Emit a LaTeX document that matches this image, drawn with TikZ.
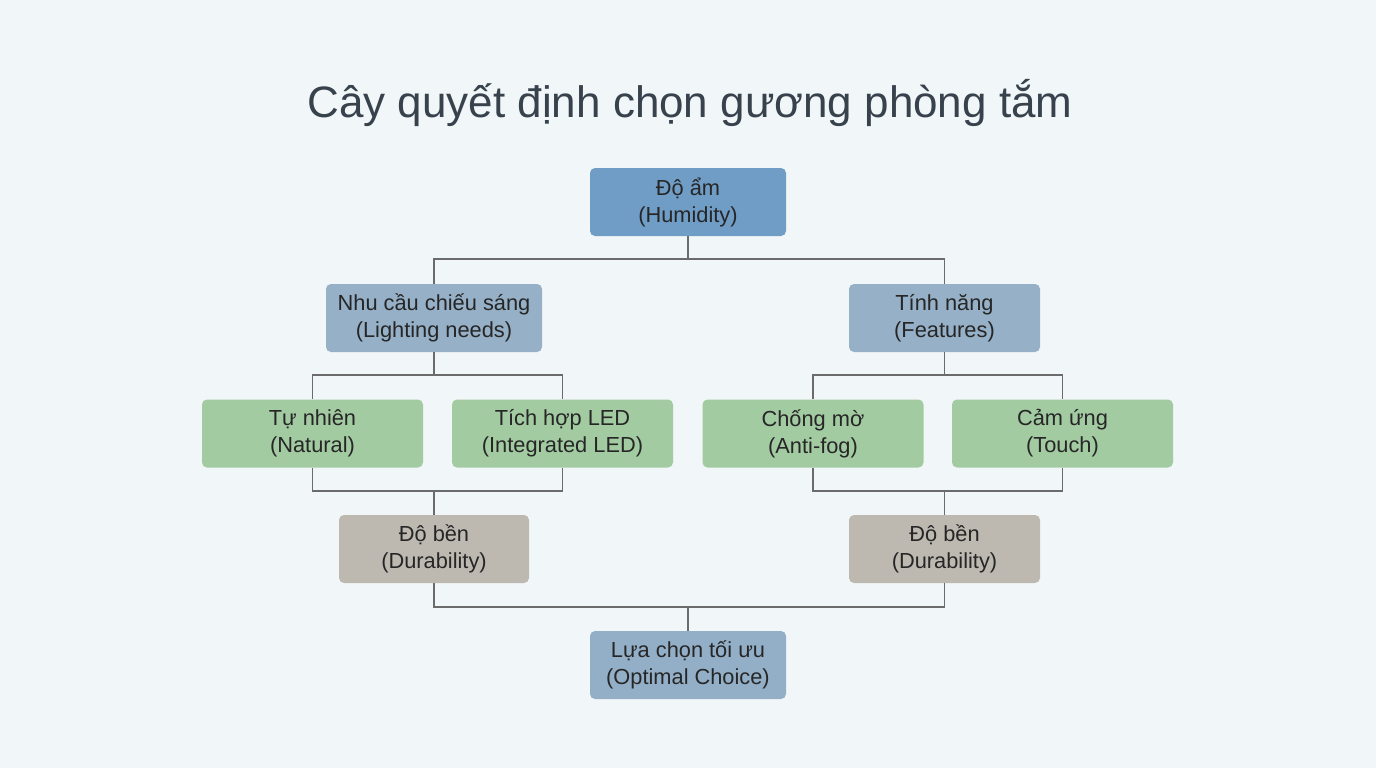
\documentclass[tikz,border=0pt]{standalone}
\usepackage{fontspec}
\setmainfont{Liberation Sans}
\usetikzlibrary{positioning}
\usetikzlibrary{calc}
\definecolor{bgcol}{HTML}{F1F6F8}
\definecolor{topcol}{HTML}{6F9DC6}
\definecolor{midcol}{HTML}{95B0C7}
\definecolor{leafcol}{HTML}{A3CBA2}
\definecolor{durcol}{HTML}{BDB9B1}
\definecolor{linkcol}{HTML}{6B6B6B}
\definecolor{titlecol}{HTML}{37424C}
\tikzset{box/.style={rectangle, rounded corners=5pt, minimum height=68pt, inner sep=0pt, align=center, text=black!85, font=\fontsize{21.8}{27}\selectfont}}
\tikzset{topbox/.style={box, fill=topcol, minimum width=196pt}}
\tikzset{midbox/.style={box, fill=midcol, minimum width=#1}}
\tikzset{leafbox/.style={box, fill=leafcol, minimum width=221pt}}
\tikzset{durbox/.style={box, fill=durcol, minimum width=190pt}}
\tikzset{link/.style={draw=linkcol, line width=1.6pt}}
\begin{document}
\begin{tikzpicture}[x=1pt, y=-1pt]
\fill[bgcol] (0,0) rectangle (1376,768);
\useasboundingbox (0,0) rectangle (1376,768);

\node[text=titlecol, font=\fontsize{44}{50}\selectfont] (title) at (690, 103) {Cây quyết định chọn gương phòng tắm};

\node[topbox] (hum) at (688, 202) {Độ ẩm\\(Humidity)};

\node[midbox=216pt] (light) at (434, 318) {Nhu cầu chiếu sáng\\(Lighting needs)};
\node[midbox=191pt] (feat) at (944.5, 318) {Tính năng\\(Features)};

\node[leafbox] (nat) at (312.5, 433.5) {Tự nhiên\\(Natural)};
\node[leafbox] (led) at (562.5, 433.5) {Tích hợp LED\\(Integrated LED)};
\node[leafbox] (fog) at (813, 433.5) {Chống mờ\\(Anti-fog)};
\node[leafbox] (touch) at (1062.5, 433.5) {Cảm ứng\\(Touch)};

\node[durbox] (durL) at (434, 549) {Độ bền\\(Durability)};
\node[durbox, minimum width=191pt] (durR) at (944.5, 549) {Độ bền\\(Durability)};

\node[midbox=196pt, fill=midcol!95!topcol] (opt) at (688, 665) {Lựa chọn tối ưu\\(Optimal Choice)};

% humidity to second level
\draw[link] (hum.south) -- ++(0,23);
\draw[link] (light.north) |- ($(hum.south)+(0,23)$) -| (feat.north);

% second level to leaves
\draw[link] (light.south) -- ++(0,23);
\draw[link] (nat.north) |- ($(light.south)+(0,23)$) -| (led.north);
\draw[link] (feat.south) -- ++(0,23);
\draw[link] (fog.north) |- ($(feat.south)+(0,23)$) -| (touch.north);

% leaves to durability
\draw[link] (nat.south) |- ($(durL.north)+(0,-24)$) -| (led.south);
\draw[link] ($(durL.north)+(0,-24)$) -- (durL.north);
\draw[link] (fog.south) |- ($(durR.north)+(0,-24)$) -| (touch.south);
\draw[link] ($(durR.north)+(0,-24)$) -- (durR.north);

% durability to optimal choice
\draw[link] (durL.south) |- ($(opt.north)+(0,-24)$) -| (durR.south);
\draw[link] ($(opt.north)+(0,-24)$) -- (opt.north);
\end{tikzpicture}
\end{document}
